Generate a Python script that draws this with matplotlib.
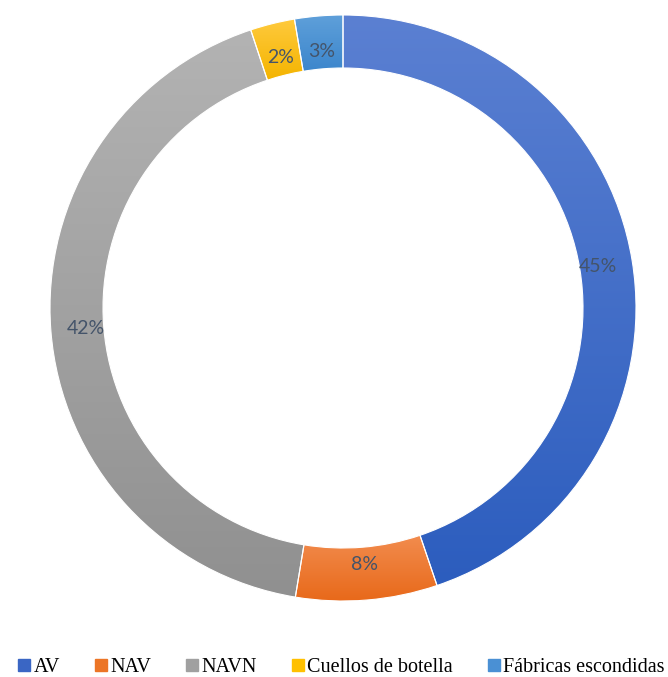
import matplotlib
matplotlib.use("Agg")
import matplotlib.pyplot as plt
import numpy as np
from matplotlib.colors import to_rgb
from matplotlib.lines import Line2D

categories = ["AV", "NAV", "NAVN", "Cuellos de botella", "Fábricas escondidas"]
values = [44.8, 7.8, 42.3, 2.45, 2.65]
top_colors = ["#5B80D2", "#F28C4E", "#B3B3B3", "#FFCA3E", "#5FA0DA"]
bottom_colors = ["#2C5DBE", "#E8691A", "#909090", "#F4B400", "#3C86CC"]
legend_colors = ["#3A66C4", "#EC7526", "#A0A0A0", "#FFC000", "#4A90D4"]

fig = plt.figure(figsize=(6.68, 6.77), dpi=100)
ax = fig.add_axes([50/668, 76/677, 586/668, 586/677])
ax.axis("off")

width = 53/293
wedges, _ = ax.pie(values, radius=1, startangle=90, counterclock=False,
                   colors=legend_colors,
                   wedgeprops=dict(width=width, edgecolor="white", linewidth=0.8))
ax.set_xlim(-1, 1)
ax.set_ylim(-1, 1)
ax.set_aspect("auto")

for w, tc, bc in zip(wedges, top_colors, bottom_colors):
    ext = w.get_path().get_extents(w.get_patch_transform())
    t = np.array(to_rgb(tc)); b = np.array(to_rgb(bc))
    n = 256
    f = np.linspace(0, 1, n)[:, None]
    img = (t[None, :] * (1 - f) + b[None, :] * f)[:, None, :]
    im = ax.imshow(img, extent=[ext.x0, ext.x1, ext.y0, ext.y1], origin="upper",
                   aspect="auto", zorder=w.get_zorder() + 0.1, interpolation="bilinear")
    im.set_clip_path(w)
    w.set_facecolor("none")
    w.set_zorder(w.get_zorder() + 0.2)

ax.set_xlim(-1, 1)
ax.set_ylim(-1, 1)

total = sum(values)
rlab = 0.88
cum = 0
for v in values:
    mid = 90 - (cum + v / 2) / total * 360
    cum += v
    x = rlab * np.cos(np.radians(mid))
    y = rlab * np.sin(np.radians(mid))
    ax.text(x, y, f"{v/total*100:.0f}%", ha="center", va="center",
            fontsize=14, family="Lato", color="#44546A", zorder=10)

handles = [Line2D([], [], marker="s", linestyle="none", markersize=8.3,
                  markerfacecolor=c, markeredgecolor=c) for c in legend_colors]
fig.legend(handles, categories, loc="center", bbox_to_anchor=(0.5 + 7/668, 10/677),
           ncol=5, frameon=False, handletextpad=0.1, columnspacing=1.7,
           handlelength=0.7, prop={"family": "Liberation Serif", "size": 14.5})

fig.savefig("out.png", dpi=100)
